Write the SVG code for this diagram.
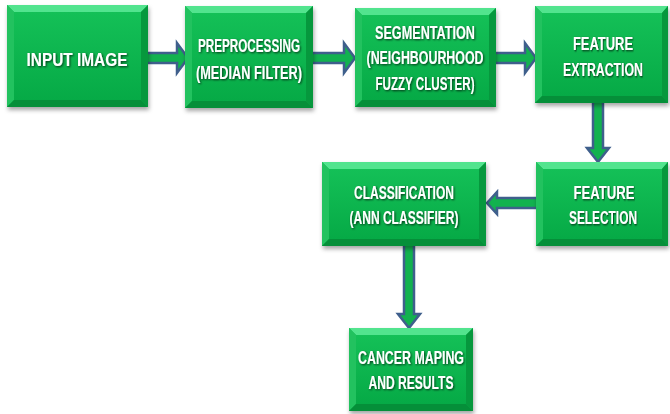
<svg xmlns="http://www.w3.org/2000/svg" width="670" height="414" viewBox="0 0 670 414">
<defs>
<linearGradient id="face" x1="0" y1="0" x2="0" y2="1">
<stop offset="0" stop-color="#14c057"/>
<stop offset="1" stop-color="#06aa46"/>
</linearGradient>
<filter id="sh" x="-5%" y="-5%" width="112%" height="120%">
<feDropShadow dx="1" dy="3" stdDeviation="2" flood-color="#000" flood-opacity="0.35"/>
</filter>
<filter id="ts" x="-4%" y="-20%" width="108%" height="150%">
<feDropShadow dx="1" dy="1" stdDeviation="0.8" flood-color="#000" flood-opacity="0.7"/>
</filter>
</defs>
<style>
.base{fill:#0db04b;filter:url(#sh)}
.bt{fill:#52e48e}
.bl{fill:#22c25f}
.br{fill:#06983d}
.bb{fill:#058f39}
.face{fill:url(#face)}
.conn path{fill:#12b24f;stroke:#3f5f8c;stroke-width:2.5;stroke-linejoin:miter}
text{font-family:"Liberation Sans",Arial,sans-serif;font-weight:bold;fill:#ffffff;text-anchor:middle;font-size:18px;filter:url(#ts)}
</style>
<rect width="670" height="414" fill="#ffffff"/>

<g id="connectors" class="conn">
<path d="M144,53 H177 V43 L188,58 L177,73 V63 H144 Z"/>
<path d="M309,53 H344 V43 L355,58 L344,73 V63 H309 Z"/>
<path d="M492,53 H525 V43 L536,58 L525,73 V63 H492 Z"/>
<path d="M593,99 V148 H587 L598,162 L609,148 H603 V99 Z"/>
<path d="M540,198 H497 V192 L487,203 L497,214 V208 H540 Z"/>
<path d="M404,242 V314 H398 L409,328 L420,314 H414 V242 Z"/>
</g>

<g id="input-image">
<rect class="base" x="7" y="5" width="141" height="102"/>
<polygon class="bt" points="7,5 148,5 141,12 14,12"/>
<polygon class="bl" points="7,5 14,12 14,100 7,107"/>
<polygon class="br" points="148,5 148,107 141,100 141,12"/>
<polygon class="bb" points="7,107 14,100 141,100 148,107"/>
<rect class="face" x="14" y="12" width="127" height="88"/>
<text x="77" y="66" font-size="23" textLength="101" lengthAdjust="spacingAndGlyphs">INPUT IMAGE</text>
</g>

<g id="preprocessing">
<rect class="base" x="185" y="6" width="128" height="102"/>
<polygon class="bt" points="185,6 313,6 306,13 192,13"/>
<polygon class="bl" points="185,6 192,13 192,101 185,108"/>
<polygon class="br" points="313,6 313,108 306,101 306,13"/>
<polygon class="bb" points="185,108 192,101 306,101 313,108"/>
<rect class="face" x="192" y="13" width="114" height="88"/>
<text x="249" y="52" textLength="102" lengthAdjust="spacingAndGlyphs">PREPROCESSING</text>
<text x="249" y="79" textLength="106" lengthAdjust="spacingAndGlyphs">(MEDIAN FILTER)</text>
</g>

<g id="segmentation">
<rect class="base" x="355" y="8" width="141" height="99"/>
<polygon class="bt" points="355,8 496,8 489,15 362,15"/>
<polygon class="bl" points="355,8 362,15 362,100 355,107"/>
<polygon class="br" points="496,8 496,107 489,100 489,15"/>
<polygon class="bb" points="355,107 362,100 489,100 496,107"/>
<rect class="face" x="362" y="15" width="127" height="85"/>
<text x="425" y="39" textLength="100" lengthAdjust="spacingAndGlyphs">SEGMENTATION</text>
<text x="425" y="64" textLength="117" lengthAdjust="spacingAndGlyphs">(NEIGHBOURHOOD</text>
<text x="425" y="90" textLength="99" lengthAdjust="spacingAndGlyphs">FUZZY CLUSTER)</text>
</g>

<g id="feature-extraction">
<rect class="base" x="535" y="6" width="133" height="97"/>
<polygon class="bt" points="535,6 668,6 662,13 542,13"/>
<polygon class="bl" points="535,6 542,13 542,96 535,103"/>
<polygon class="br" points="668,6 668,103 662,96 662,13"/>
<polygon class="bb" points="535,103 542,96 662,96 668,103"/>
<rect class="face" x="542" y="13" width="120" height="83"/>
<text transform="translate(603,50) scale(0.72,1)">FEATURE</text>
<text transform="translate(603,76) scale(0.684,1)">EXTRACTION</text>
</g>

<g id="feature-selection">
<rect class="base" x="536" y="162" width="132" height="84"/>
<polygon class="bt" points="536,162 668,162 662,169 543,169"/>
<polygon class="bl" points="536,162 543,169 543,239 536,246"/>
<polygon class="br" points="668,162 668,246 662,239 662,169"/>
<polygon class="bb" points="536,246 543,239 662,239 668,246"/>
<rect class="face" x="543" y="169" width="119" height="70"/>
<text transform="translate(604,199) scale(0.73,1)">FEATURE</text>
<text transform="translate(603,224) scale(0.66,1)">SELECTION</text>
</g>

<g id="classification">
<rect class="base" x="322" y="162" width="164" height="84"/>
<polygon class="bt" points="322,162 486,162 479,169 329,169"/>
<polygon class="bl" points="322,162 329,169 329,239 322,246"/>
<polygon class="br" points="486,162 486,246 479,239 479,169"/>
<polygon class="bb" points="322,246 329,239 479,239 486,246"/>
<rect class="face" x="329" y="169" width="150" height="70"/>
<text x="404" y="199" textLength="100" lengthAdjust="spacingAndGlyphs">CLASSIFICATION</text>
<text x="404" y="224" textLength="109" lengthAdjust="spacingAndGlyphs">(ANN CLASSIFIER)</text>
</g>

<g id="cancer-maping">
<rect class="base" x="349" y="328" width="124" height="83"/>
<polygon class="bt" points="349,328 473,328 466,335 356,335"/>
<polygon class="bl" points="349,328 356,335 356,404 349,411"/>
<polygon class="br" points="473,328 473,411 466,404 466,335"/>
<polygon class="bb" points="349,411 356,404 466,404 473,411"/>
<rect class="face" x="356" y="335" width="110" height="69"/>
<text x="411" y="364" textLength="106" lengthAdjust="spacingAndGlyphs">CANCER MAPING</text>
<text x="411" y="389" textLength="85" lengthAdjust="spacingAndGlyphs">AND RESULTS</text>
</g>
</svg>
